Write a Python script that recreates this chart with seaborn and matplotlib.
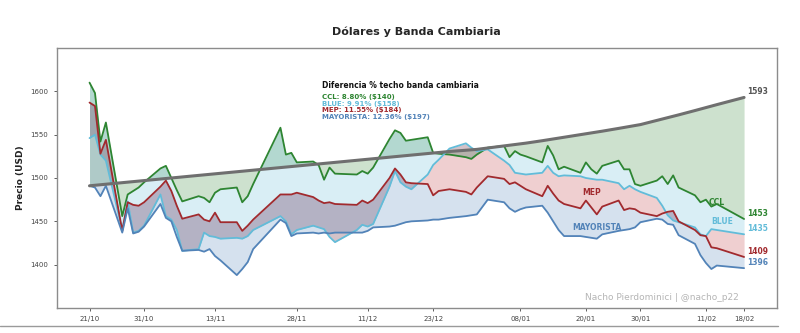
import matplotlib
matplotlib.use("Agg")
import matplotlib.pyplot as plt
import matplotlib.dates as mdates
from matplotlib.lines import Line2D
import pandas as pd
import seaborn as sns

# Ruedas hábiles (21/10/2025 - 18/02/2026)
fechas = [
    "2025-10-21", "2025-10-22", "2025-10-23", "2025-10-24", "2025-10-27", "2025-10-28",
    "2025-10-29", "2025-10-30", "2025-10-31", "2025-11-03", "2025-11-04", "2025-11-05",
    "2025-11-06", "2025-11-07", "2025-11-10", "2025-11-11", "2025-11-12", "2025-11-13",
    "2025-11-14", "2025-11-17", "2025-11-18", "2025-11-19", "2025-11-20", "2025-11-25",
    "2025-11-26", "2025-11-27", "2025-11-28", "2025-12-01", "2025-12-02", "2025-12-03",
    "2025-12-04", "2025-12-05", "2025-12-09", "2025-12-10", "2025-12-11", "2025-12-12",
    "2025-12-15", "2025-12-16", "2025-12-17", "2025-12-18", "2025-12-19", "2025-12-22",
    "2025-12-23", "2025-12-24", "2025-12-26", "2025-12-29", "2025-12-30", "2025-12-31",
    "2026-01-02", "2026-01-05", "2026-01-06", "2026-01-07", "2026-01-08", "2026-01-09",
    "2026-01-12", "2026-01-13", "2026-01-14", "2026-01-15", "2026-01-16", "2026-01-19",
    "2026-01-20", "2026-01-21", "2026-01-22", "2026-01-23", "2026-01-26", "2026-01-27",
    "2026-01-28", "2026-01-29", "2026-01-30", "2026-02-02", "2026-02-03", "2026-02-04",
    "2026-02-05", "2026-02-06", "2026-02-09", "2026-02-10", "2026-02-11", "2026-02-12",
    "2026-02-13", "2026-02-18",
]

techo = [
    1491.0, 1491.6, 1492.2, 1492.8, 1494.6, 1495.2, 1495.8, 1496.4, 1497.0, 1498.8,
    1499.4, 1500.0, 1500.6, 1501.2, 1503.0, 1503.6, 1504.2, 1504.8, 1505.4, 1507.2,
    1507.8, 1508.4, 1509.0, 1512.0, 1512.6, 1513.2, 1513.8, 1515.6, 1516.2, 1516.8,
    1517.4, 1518.0, 1520.4, 1521.0, 1521.6, 1522.2, 1524.0, 1524.6, 1525.2, 1525.8,
    1526.4, 1528.2, 1528.8, 1529.4, 1530.6, 1532.0, 1532.5, 1533.0, 1534.6, 1537.0,
    1537.8, 1538.6, 1539.4, 1540.2, 1543.0, 1544.0, 1545.0, 1546.0, 1547.0, 1550.0,
    1551.0, 1552.0, 1553.0, 1554.0, 1557.2, 1558.3, 1559.4, 1560.5, 1561.6, 1566.4,
    1568.0, 1569.6, 1571.2, 1572.8, 1577.8, 1579.5, 1581.2, 1582.9, 1584.6, 1592.9,
]

ccl = [
    1610, 1598, 1542, 1564, 1456, 1481, 1485, 1489, 1495, 1511,
    1514, 1500, 1486, 1473, 1479, 1477, 1472, 1483, 1487, 1489,
    1472, 1479, 1493, 1558, 1527, 1529, 1518, 1519, 1515, 1498,
    1512, 1505, 1504, 1508, 1505, 1512, 1545, 1555, 1552, 1543,
    1544, 1547, 1529, 1528, 1527, 1524, 1522, 1527, 1535, 1537,
    1524, 1531, 1527, 1525, 1518, 1537, 1526, 1510, 1513, 1506,
    1518, 1510, 1505, 1514, 1520, 1510, 1510, 1493, 1491, 1497,
    1502, 1493, 1503, 1489, 1480, 1472, 1475, 1467, 1470, 1452.7,
]

mep = [
    1587, 1583, 1528, 1544, 1439, 1472, 1469, 1468, 1472, 1490,
    1497, 1485, 1468, 1453, 1458, 1452, 1450, 1460, 1449, 1449,
    1439, 1445, 1452, 1481, 1481, 1481, 1483, 1478, 1474, 1471,
    1472, 1470, 1469, 1474, 1471, 1475, 1500, 1511, 1504, 1495,
    1494, 1493, 1480, 1485, 1487, 1484, 1481, 1489, 1502, 1499,
    1493, 1495, 1491, 1487, 1479, 1491, 1482, 1474, 1470, 1465,
    1474, 1466, 1458, 1467, 1474, 1463, 1465, 1464, 1460, 1456,
    1459, 1461, 1462, 1450, 1440, 1434, 1433, 1420, 1419, 1408.9,
]

blue = [
    1546, 1550, 1527, 1520, 1440, 1473, 1437, 1439, 1445, 1481,
    1456, 1452, 1440, 1416, 1418, 1437, 1433, 1432, 1430, 1431,
    1430, 1433, 1440, 1456, 1450, 1435, 1440, 1445, 1443, 1441,
    1432, 1426, 1440, 1446, 1444, 1447, 1490, 1508, 1495, 1490,
    1487, 1504, 1515, 1521, 1534, 1540, 1535, 1531, 1533, 1520,
    1515, 1506, 1505, 1504, 1506, 1514, 1506, 1502, 1503, 1502,
    1500, 1499, 1498, 1498, 1494, 1487, 1491, 1487, 1484, 1477,
    1468, 1457, 1451, 1449, 1443, 1435, 1433, 1441, 1440, 1435.05,
]

mayorista = [
    1491, 1489, 1479, 1491, 1437, 1465, 1436, 1438, 1444, 1470,
    1454, 1450, 1432, 1416, 1417, 1415, 1418, 1410, 1405, 1388,
    1395, 1403, 1418, 1452, 1448, 1433, 1436, 1437, 1436, 1437,
    1436, 1437, 1437, 1437, 1439, 1443, 1444, 1445, 1447, 1449,
    1450, 1451, 1452, 1452, 1454, 1456, 1457, 1458, 1475, 1472,
    1465, 1461, 1464, 1466, 1468, 1460, 1450, 1440, 1433, 1433,
    1432, 1431, 1430, 1435, 1439, 1440, 1441, 1443, 1449, 1453,
    1452, 1447, 1446, 1434, 1424, 1411, 1402, 1395, 1399, 1396.0,
]

ticks_x = ["2025-10-21", "2025-10-31", "2025-11-13", "2025-11-28", "2025-12-11",
           "2025-12-23", "2026-01-08", "2026-01-20", "2026-01-30", "2026-02-11",
           "2026-02-18"]
ticks_y = [1400, 1450, 1500, 1550, 1600]

series = ["CCL", "BLUE", "MEP", "MAYORISTA"]
colores = {"CCL": "#2e8532", "BLUE": "#62bcd9", "MEP": "#a12a2e", "MAYORISTA": "#5283b8"}
color_techo = "#6f6f6f"

df = pd.DataFrame({
    "Fecha": pd.to_datetime(fechas),
    "Techo": techo,
    "CCL": ccl,
    "MEP": mep,
    "BLUE": blue,
    "MAYORISTA": mayorista,
})
largo = df.melt(id_vars="Fecha", value_vars=series, var_name="Serie", value_name="Precio")

sns.set_style("white")
fig, ax = plt.subplots(figsize=(8, 3.33), dpi=100)
fig.subplots_adjust(left=0.071, right=0.971, bottom=0.075, top=0.856)

# Áreas entre cada cotización y la inmediata superior
alpha = 0.24
ax.fill_between(df["Fecha"], df["CCL"], df["Techo"], color=colores["CCL"], alpha=alpha, lw=0)
ax.fill_between(df["Fecha"], df["BLUE"], df["CCL"], color=colores["BLUE"], alpha=alpha, lw=0)
ax.fill_between(df["Fecha"], df["MEP"], df["BLUE"], color="#c0393b", alpha=alpha, lw=0)
ax.fill_between(df["Fecha"], df["MAYORISTA"], df["MEP"], color=colores["MAYORISTA"], alpha=alpha, lw=0)

sns.lineplot(data=largo, x="Fecha", y="Precio", hue="Serie", hue_order=series,
             palette=colores, linewidth=1.3, legend=False, ax=ax)
sns.lineplot(data=df, x="Fecha", y="Techo", color=color_techo, linewidth=2.2, ax=ax)

ax.set_ylim(1350, 1650)
ax.set_yticks(ticks_y)
ax.set_xticks(pd.to_datetime(ticks_x))
ax.xaxis.set_major_formatter(mdates.DateFormatter("%d/%m"))
ax.tick_params(axis="both", labelsize=5, colors="#444444", length=2.5, width=0.6,
               bottom=True, left=True)
ax.set_xlabel("")
ax.set_ylabel("Precio (USD)", fontsize=6.5, fontweight="bold", color="#222222", labelpad=4)
ax.set_title("Dólares y Banda Cambiaria", fontsize=8, fontweight="bold", pad=9)
for sp in ax.spines.values():
    sp.set_color("#8c8c8c")
    sp.set_linewidth(1.0)

# Valores finales
ultimo = df.iloc[-1]
fin = ultimo["Fecha"] + pd.Timedelta(hours=12)
ax.text(fin, ultimo["Techo"] + 1.5, f"{ultimo['Techo']:.0f}", color="#555555",
        fontsize=5.5, fontweight="bold", ha="left", va="bottom")
for s in series:
    ax.text(fin, ultimo[s] + 1.5, f"{ultimo[s]:.0f}", color=colores[s],
            fontsize=5.5, fontweight="bold", ha="left", va="bottom")

# Etiquetas sobre las curvas
etiquetas = {
    "CCL": ("2026-02-13", 1472),
    "BLUE": ("2026-02-14", 1450),
    "MEP": ("2026-01-21", 1483),
    "MAYORISTA": ("2026-01-22", 1443),
}
for s, (f, v) in etiquetas.items():
    ax.text(pd.Timestamp(f), v, s, color=colores[s], fontsize=5.5, fontweight="bold",
            ha="center", va="center")

# Diferencia porcentual contra el techo de la banda
ax.text(0.369, 0.856, "Diferencia % techo banda cambiaria", transform=ax.transAxes,
        fontsize=5.5, fontweight="bold", color="#111111", ha="left", va="center")
for i, s in enumerate(series):
    dif = ultimo["Techo"] - ultimo[s]
    pct = dif / ultimo["Techo"] * 100
    ax.text(0.369, 0.812 - i * 0.026, f"{s}: {pct:.2f}% (${dif:.0f})", transform=ax.transAxes,
            fontsize=5, fontweight="bold", color=colores[s], ha="left", va="center")

ax.text(0.84, 0.025, "Nacho Pierdominici | @nacho_p22", transform=ax.transAxes,
        fontsize=6.5, color="#b5b5b5", ha="center", va="bottom")

fig.add_artist(Line2D([0.0, 0.972], [0.021, 0.021], color="#9a9a9a", lw=1.0))

fig.savefig("out.png", dpi=100)
